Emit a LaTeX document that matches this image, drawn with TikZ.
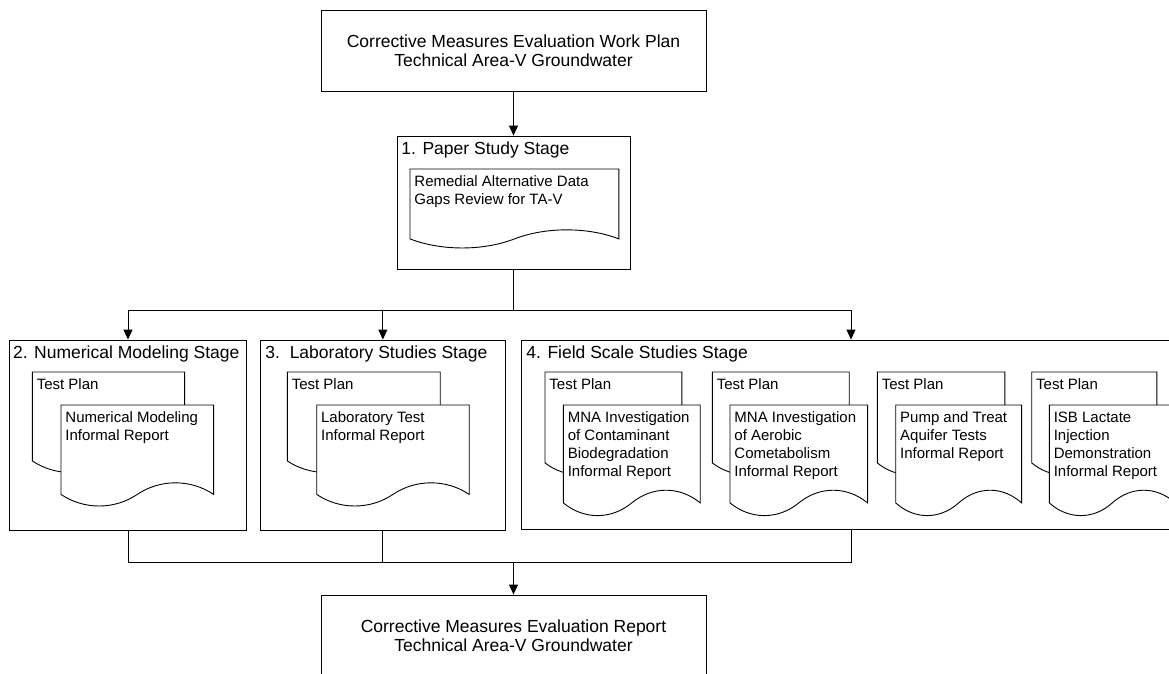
\documentclass[tikz,border=0pt]{standalone}
\usepackage{fontspec}
\setmainfont{Liberation Sans}
\usepackage{tikz}
\usetikzlibrary{arrows.meta, positioning, calc}
\tikzstyle{mainbox}    = [rectangle, draw, text centered, align=center,
                          minimum width=385pt, minimum height=81pt,
                          inner sep=0pt, font=\fontsize{17.5}{19}\selectfont]
\tikzstyle{stagebox}   = [rectangle, draw, inner sep=0pt]
\tikzstyle{stagetitle} = [anchor=base west, inner sep=0pt,
                          font=\fontsize{17.5}{19}\selectfont]
\tikzstyle{docframe}   = [rectangle, anchor=north west, inner sep=0pt]
\tikzstyle{docline}    = [draw, fill=white]
\tikzstyle{doctext}    = [anchor=north west, align=left, inner sep=0pt,
                          font=\fontsize{15}{18}\selectfont]
\tikzstyle{arrow}      = [-{Triangle[length=10pt, width=9pt]}]
% document symbol: name, x, y, width, height, text
\newcommand{\paperdoc}[6]{%
  \node[docframe, minimum width=#4pt, minimum height=#5pt] (#1) at (#2,#3) {};
  \draw[docline] let \p1=(#1.north west), \p2=(#1.south east),
      \n1={\x2-\x1}, \n2={0.13*(\y1-\y2)} in
    (\p1) -- (\x2,\y1) -- (\p2)
    .. controls (\x2-0.15*\n1,\y2+1.33*\n2) and (\x2-0.35*\n1,\y2+1.33*\n2) .. (\x2-0.5*\n1,\y2)
    .. controls (\x1+0.35*\n1,\y2-1.33*\n2) and (\x1+0.15*\n1,\y2-1.33*\n2) .. (\x1,\y2)
    -- cycle;
  \node[doctext] (#1t) at ($(#1.north west)+(4,6.6)$) {#6};
}

\begin{document}
\begin{tikzpicture}[x=1pt, y=-1pt, line width=0.9pt]
  \useasboundingbox (0,0) rectangle (1169,673);
  \clip (0,0) rectangle (1169,673);

  \node[mainbox] (plan) at (513.5,50.5)
    {Corrective Measures Evaluation Work Plan\\Technical Area-V Groundwater};

  % stages
  \node[stagebox, minimum width=233pt, minimum height=133pt] (s1) at (513.5,202.5) {};
  \node[stagebox, minimum width=237.4pt, minimum height=190pt] (s2) at (128,435) {};
  \node[stagebox, minimum width=245.7pt, minimum height=190pt] (s3) at (382.85,435) {};
  \node[stagebox, minimum width=658.6pt, minimum height=189.5pt] (s4) at (851,434.75) {};

  \node[stagetitle] (t1) at (401,154) {1. Paper Study Stage};
  \node[stagetitle] (t2) at (12.7,358) {2. Numerical Modeling Stage};
  \node[stagetitle] (t3) at (265,358) {3.\ \ Laboratory Studies Stage};
  \node[stagetitle] (t4) at (526,358) {4. Field Scale Studies Stage};

  % documents
  \paperdoc{pd}{410}{169}{208}{69}{Remedial Alternative Data\\Gaps Review for TA-V}

  \paperdoc{nb}{32.3}{372}{151.4}{88}{Test Plan}
  \paperdoc{nf}{61}{405}{151.7}{88.5}{Numerical Modeling\\Informal Report}

  \paperdoc{lb}{287.3}{372}{152}{88}{Test Plan}
  \paperdoc{lf}{316.7}{405}{151.6}{88.5}{Laboratory Test\\Informal Report}

  \paperdoc{fab}{545}{372}{136}{90}{Test Plan}
  \paperdoc{faf}{563.3}{405}{136}{97}{MNA Investigation\\of Contaminant\\Biodegradation\\Informal Report}
  \paperdoc{fbb}{712.3}{372}{136}{90}{Test Plan}
  \paperdoc{fbf}{730}{405}{136.7}{97}{MNA Investigation\\of Aerobic\\Cometabolism\\Informal Report}
  \paperdoc{fcb}{877.3}{372}{126.7}{90}{Test Plan}
  \paperdoc{fcf}{895.7}{405}{125}{97}{Pump and Treat\\Aquifer Tests\\Informal Report}
  \paperdoc{fdb}{1031.7}{372}{124.3}{90}{Test Plan}
  \paperdoc{fdf}{1049.3}{405}{125}{97}{ISB Lactate\\Injection\\Demonstration\\Informal Report}

  \node[mainbox] (report) at (513.5,635.5)
    {Corrective Measures Evaluation Report\\Technical Area-V Groundwater};

  % connectors
  \coordinate (split) at (513.5,310);
  \coordinate (join) at (513.5,562);
  \draw[arrow] (plan) -- (s1);
  \draw (s1) -- (split);
  \draw[arrow] (split) -| (s2.north);
  \draw[arrow] (split) -| (s3.north);
  \draw[arrow] (split) -| (s4.north);
  \draw (s2.south) |- (join);
  \draw (s3.south) |- (join);
  \draw (s4.south) |- (join);
  \draw[arrow] (join) -- (report);
\end{tikzpicture}
\end{document}
